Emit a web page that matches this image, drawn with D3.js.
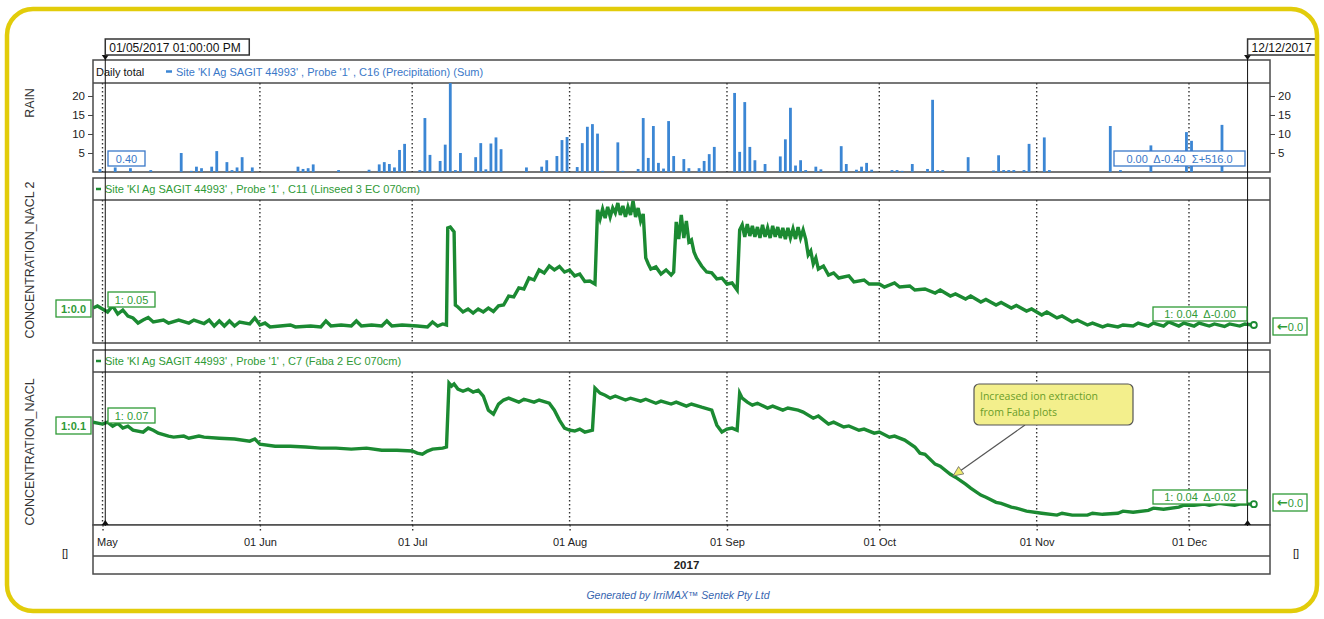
<!DOCTYPE html>
<html><head><meta charset="utf-8">
<script src="https://cdn.jsdelivr.net/npm/d3@7"></script>
<style>
body{margin:0;background:#fff;}
svg{display:block;font-family:"Liberation Sans",Arial,sans-serif;}
</style>
</head><body>
<svg id="c" width="1324" height="619"></svg>
<script>
// ---------------- DATA ----------------
const rainDates = ["04-30","05-03","05-06","05-10","05-16","05-18","05-19","05-20","05-22","05-23","05-25","05-26","05-27","05-28","05-30",
 "06-08","06-09","06-10","06-11","06-16","06-22","06-24","06-25","06-26","06-27","06-28","06-29",
 "07-02","07-03","07-04","07-06","07-07","07-08","07-09","07-10","07-13","07-14","07-15","07-16","07-17","07-18","07-23","07-26","07-27","07-29","07-30","07-31",
 "08-02","08-03","08-04","08-05","08-06","08-07","08-10","08-11","08-14","08-15","08-16","08-17","08-18","08-19","08-20","08-21","08-23","08-24","08-26","08-27","08-28","08-29",
 "09-02","09-03","09-04","09-05","09-06","09-08","09-11","09-12","09-13","09-14","09-15","09-16","09-18","09-19","09-23","09-24","09-26","09-27","09-28","09-29",
 "10-03","10-04","10-05","10-07","10-10","10-11","10-12","10-13","10-18","10-23","10-24","10-25","10-26","10-27","10-29","10-30",
 "11-02","11-03","11-15","11-17","11-23","11-30","12-01","12-07"];
const rainValues = [0.8,1.2,1.0,0.5,5.0,0.3,1.4,1.0,1.4,5.5,2.6,0.5,1.2,3.9,1.2,
 1.4,0.8,1.0,2.0,0.5,0.6,2.0,2.6,2.1,1.2,5.8,7.4,
 0.5,14.2,4.5,2.9,7.2,24,0.5,5.0,3.9,7.6,0.7,7.5,9.1,6.0,1.2,1.4,3.1,4.2,8.4,9.2,
 1.3,7.6,11.9,12.6,10.1,0.3,7.8,0.3,0.8,14.2,3.7,12.1,2.4,0.9,13.4,4.2,3.4,1.0,1.0,2.9,4.7,6.6,
 20.8,5.3,18.4,6.6,3.1,2.1,4.1,8.6,16.9,1.7,3.1,0.5,1.4,0.7,6.8,2.1,0.6,1.4,2.4,0.6,
 0.5,0.5,0.3,2.1,0.8,19.0,0.5,0.5,3.9,0.4,4.4,0.5,0.5,0.5,0.5,7.4,
 9.1,0.5,12.1,0.5,7.0,10.5,8.2,12.4];

// C11 Linseed 3 EC 070cm  [time "MM-DD HH", value]
const linseedSeries = [
 ["04-29 03",0.0513],["04-30 00",0.0527],["05-01 00",0.0507],["05-02 00",0.0487],["05-03 00",0.0527],["05-04 00",0.0473],
 ["05-05 00",0.050],["05-06 00",0.046],["05-07 00",0.0447],["05-08 00",0.0413],["05-09 00",0.0433],["05-10 00",0.045],
 ["05-11 00",0.042],["05-13 00",0.0433],["05-14 00",0.0413],["05-16 00",0.0433],["05-18 00",0.0413],["05-19 00",0.0433],
 ["05-21 00",0.041],["05-22 00",0.0433],["05-23 00",0.0393],["05-24 00",0.0427],["05-25 00",0.0393],["05-26 00",0.0427],
 ["05-27 00",0.0393],["05-28 00",0.042],["05-30 00",0.0407],["05-31 00",0.0447],["06-01 00",0.040],["06-02 00",0.0413],
 ["06-03 00",0.0387],["06-05 00",0.0393],["06-07 00",0.040],["06-08 00",0.0387],["06-11 00",0.0393],["06-13 00",0.0387],
 ["06-14 00",0.0427],["06-15 00",0.0393],["06-17 00",0.040],["06-19 00",0.0393],["06-20 00",0.0427],["06-21 00",0.0393],
 ["06-23 00",0.040],["06-25 00",0.0393],["06-26 00",0.0427],["06-27 00",0.0393],["06-29 00",0.040],["07-02 00",0.0393],
 ["07-04 00",0.0387],["07-05 00",0.042],["07-06 00",0.0393],["07-07 00",0.0407],["07-07 18",0.040],["07-08 00",0.1047],
 ["07-08 12",0.1053],["07-09 06",0.102],["07-09 12",0.0533],["07-10 00",0.052],["07-11 00",0.0487],["07-12 00",0.0507],
 ["07-13 00",0.048],["07-14 00",0.0507],["07-15 00",0.0487],["07-16 00",0.0513],["07-17 00",0.049],["07-18 00",0.0527],
 ["07-19 00",0.0533],["07-20 00",0.0593],["07-21 00",0.0587],["07-22 00",0.0647],["07-23 00",0.064],["07-24 00",0.0713],
 ["07-25 00",0.070],["07-26 00",0.0767],["07-27 00",0.0747],["07-28 00",0.0793],["07-29 00",0.0767],["07-30 00",0.079],
 ["07-31 00",0.0753],["08-01 00",0.0767],["08-02 00",0.0727],["08-03 00",0.074],["08-04 00",0.069],["08-05 00",0.0693],
 ["08-06 00",0.0673],["08-06 12",0.1167],["08-07 00",0.1107],["08-07 12",0.1173],["08-08 00",0.1113],["08-08 12",0.1187],
 ["08-09 00",0.112],["08-09 12",0.118],["08-10 00",0.1147],["08-10 12",0.1213],["08-11 00",0.1133],["08-11 12",0.1193],
 ["08-12 00",0.112],["08-12 12",0.1187],["08-13 00",0.1133],["08-13 12",0.1227],["08-14 00",0.112],["08-14 12",0.118],
 ["08-15 00",0.1093],["08-15 12",0.114],["08-16 00",0.0847],["08-16 12",0.0807],["08-17 00",0.0773],["08-18 00",0.0787],
 ["08-19 00",0.074],["08-20 00",0.0767],["08-21 00",0.0733],["08-21 12",0.0753],["08-22 00",0.1087],["08-22 12",0.0973],
 ["08-23 00",0.1133],["08-23 12",0.098],["08-24 00",0.1093],["08-24 12",0.0953],["08-25 00",0.0967],["08-25 12",0.0887],
 ["08-26 00",0.0847],["08-27 00",0.0793],["08-28 00",0.0753],["08-29 00",0.0747],["08-30 00",0.0707],["08-31 00",0.0713],
 ["09-01 00",0.0673],["09-02 00",0.068],["09-03 00",0.0633],["09-03 12",0.1033],["09-04 00",0.1067],["09-04 12",0.0987],
 ["09-05 00",0.1073],["09-05 12",0.0993],["09-06 00",0.106],["09-06 12",0.0987],["09-07 00",0.1053],["09-07 12",0.098],
 ["09-08 00",0.1067],["09-08 12",0.0987],["09-09 00",0.1047],["09-09 12",0.098],["09-10 00",0.106],["09-10 12",0.0987],
 ["09-11 00",0.1053],["09-11 12",0.098],["09-12 00",0.1047],["09-12 12",0.0973],["09-13 00",0.1047],["09-13 12",0.098],
 ["09-14 00",0.104],["09-14 12",0.0973],["09-15 00",0.1053],["09-15 12",0.098],["09-16 00",0.1033],["09-16 12",0.0973],
 ["09-17 00",0.0867],["09-17 12",0.0893],["09-18 00",0.0807],["09-18 12",0.0847],["09-19 00",0.0773],["09-20 00",0.0793],
 ["09-21 00",0.0733],["09-22 00",0.0747],["09-23 00",0.0713],["09-25 00",0.0727],["09-26 00",0.0687],["09-28 00",0.070],
 ["09-29 00",0.0673],["10-01 00",0.0673],["10-02 00",0.0653],["10-04 00",0.068],["10-05 00",0.0653],["10-07 00",0.066],
 ["10-08 00",0.0633],["10-10 00",0.064],["10-12 00",0.0613],["10-13 00",0.0633],["10-15 00",0.0593],["10-16 00",0.0607],
 ["10-18 00",0.0573],["10-19 00",0.0593],["10-21 00",0.0553],["10-22 00",0.057],["10-24 00",0.0533],["10-25 00",0.055],
 ["10-27 00",0.0513],["10-28 00",0.053],["10-30 00",0.0493],["10-31 00",0.0507],["11-02 00",0.0467],["11-03 00",0.0487],
 ["11-05 00",0.0447],["11-06 00",0.046],["11-08 00",0.042],["11-09 00",0.0433],["11-11 00",0.040],["11-12 00",0.0413],
 ["11-14 00",0.0387],["11-15 00",0.040],["11-17 00",0.0387],["11-18 00",0.040],["11-20 00",0.0393],["11-21 00",0.0413],
 ["11-23 00",0.0393],["11-24 00",0.0413],["11-26 00",0.0393],["11-27 00",0.042],["11-29 00",0.0393],["11-30 00",0.0413],
 ["12-02 00",0.0393],["12-03 00",0.0413],["12-05 00",0.0393],["12-06 00",0.0407],["12-08 00",0.039],["12-09 00",0.0407],
 ["12-11 00",0.0393],["12-12 00",0.0407],["12-13 14",0.0400]
];

// C7 Faba 2 EC 070cm
const fabaSeries = [
 ["04-29 03",0.0711],["05-01 00",0.0704],["05-02 00",0.0711],["05-03 00",0.0696],["05-04 00",0.0707],["05-05 00",0.0689],
 ["05-06 00",0.0696],["05-07 00",0.0681],["05-09 00",0.0674],["05-10 00",0.0689],["05-11 00",0.0681],["05-12 00",0.067],
 ["05-14 00",0.0659],["05-15 00",0.0655],["05-17 00",0.0659],["05-18 00",0.0651],["05-20 00",0.0659],["05-21 00",0.0655],
 ["05-24 00",0.0651],["05-27 00",0.0648],["05-30 00",0.064],["05-31 00",0.0648],["06-01 00",0.0629],["06-04 00",0.0621],
 ["06-07 00",0.0621],["06-10 00",0.0618],["06-13 00",0.0614],["06-16 00",0.0614],["06-19 00",0.061],["06-22 00",0.0614],
 ["06-25 00",0.0606],["06-28 00",0.0606],["07-01 00",0.0603],["07-02 00",0.0595],["07-03 00",0.0591],["07-04 00",0.0603],
 ["07-05 00",0.061],["07-07 00",0.0614],["07-07 18",0.0618],["07-08 06",0.0857],["07-08 18",0.0846],["07-09 06",0.0854],
 ["07-10 00",0.0835],["07-11 00",0.0827],["07-12 00",0.0835],["07-13 00",0.0824],["07-14 00",0.0831],["07-15 00",0.0809],
 ["07-16 00",0.0756],["07-17 00",0.0741],["07-18 00",0.0779],["07-19 00",0.0794],["07-20 00",0.0801],["07-22 00",0.0786],
 ["07-23 00",0.0797],["07-25 00",0.0786],["07-26 00",0.0794],["07-28 00",0.0782],["07-29 00",0.0756],["07-30 00",0.0719],
 ["07-31 00",0.0689],["08-01 00",0.0681],["08-02 00",0.0678],["08-03 00",0.0685],["08-04 00",0.0674],["08-05 12",0.0681],
 ["08-06 00",0.0839],["08-07 00",0.082],["08-08 00",0.0812],["08-09 00",0.0801],["08-10 00",0.0809],["08-12 00",0.0794],
 ["08-13 00",0.0801],["08-15 00",0.079],["08-16 00",0.0797],["08-18 00",0.0782],["08-19 00",0.079],["08-21 00",0.0779],
 ["08-22 00",0.0786],["08-24 00",0.0771],["08-25 00",0.0779],["08-27 00",0.0767],["08-29 00",0.0756],["08-30 00",0.070],
 ["08-31 00",0.0674],["09-01 00",0.0685],["09-02 00",0.0689],["09-03 00",0.0681],["09-03 12",0.082],["09-04 00",0.0801],
 ["09-05 00",0.0786],["09-06 00",0.0775],["09-07 00",0.0782],["09-09 00",0.0764],["09-10 00",0.0771],["09-12 00",0.0756],
 ["09-13 00",0.0764],["09-15 00",0.0756],["09-16 00",0.0749],["09-18 00",0.0726],["09-19 00",0.0734],["09-21 00",0.0704],
 ["09-22 00",0.0711],["09-24 00",0.0693],["09-25 00",0.0697],["09-27 00",0.0681],["09-28 00",0.0685],["09-30 00",0.067],
 ["10-01 00",0.0674],["10-03 00",0.0655],["10-04 00",0.0659],["10-06 00",0.0644],["10-08 00",0.0618],["10-09 00",0.0595],
 ["10-10 00",0.0591],["10-12 00",0.0554],["10-13 00",0.0546],["10-15 00",0.0516],["10-16 00",0.0505],["10-18 00",0.0479],
 ["10-19 00",0.0464],["10-21 00",0.0438],["10-22 00",0.0430],["10-24 00",0.0411],["10-25 00",0.0407],["10-27 00",0.0393],
 ["10-28 00",0.0389],["10-30 00",0.0378],["11-02 00",0.037],["11-05 00",0.0363],["11-06 00",0.0370],["11-08 00",0.0363],
 ["11-11 00",0.0363],["11-12 00",0.0370],["11-14 00",0.0366],["11-17 00",0.037],["11-18 00",0.0378],["11-20 00",0.0374],
 ["11-23 00",0.0381],["11-24 00",0.0389],["11-26 00",0.0385],["11-29 00",0.0393],["11-30 00",0.0400],["12-02 00",0.040],
 ["12-04 00",0.0404],["12-05 00",0.040],["12-07 00",0.0407],["12-08 00",0.0404],["12-10 00",0.0400],["12-11 00",0.0404],
 ["12-13 14",0.0404]
];

const monthTicks = ["05-01 00","06-01 00","07-01 00","08-01 00","09-01 00","10-01 00","11-01 00","12-01 00"];
const monthTickLabels = ["May","01 Jun","01 Jul","01 Aug","01 Sep","01 Oct","01 Nov","01 Dec"];
const rainTicks = [5,10,15,20];

// ---------------- SETUP ----------------
const parseT = s => d3.timeParse("%Y-%m-%d %H")("2017-" + s);
const svg = d3.select("#c");
const defs = svg.append("defs");
const PL = 93, PR = 1270;
const P = {
  rain: {top:60, hb:83, bottom:172},
  mid:  {top:178, hb:200, bottom:343},
  bot:  {top:350, hb:372, bottom:525},
  axis: {top:525, mid:556, bottom:574}
};
const x = d3.scaleTime().domain([parseT("04-29 03"), parseT("12-16 23")]).range([PL, PR]);
const yRain = d3.scaleLinear().domain([0, 23.42]).range([P.rain.bottom, P.rain.hb]);
const yMid = d3.scaleLinear().domain([0.028, 0.1233]).range([P.mid.bottom, P.mid.hb]);
const yBot = d3.scaleLinear().domain([0.0326, 0.0899]).range([P.bot.bottom, P.bot.hb]);

const GREEN = "#1b8a32", GTEXT = "#2f9a36", BLUE = "#3b86d4", BTEXT = "#3a78c8", FRAME = "#4a4a4a";

defs.append("clipPath").attr("id","frameClip").append("rect")
  .attr("x",8).attr("y",10).attr("width",1307).attr("height",600).attr("rx",24);
[["rainClip",P.rain],["midClip",P.mid],["botClip",P.bot]].forEach(([id,p])=>{
  defs.append("clipPath").attr("id",id).append("rect")
    .attr("x",PL).attr("y",p.hb).attr("width",PR-PL).attr("height",p.bottom-p.hb);
});

const root = svg.append("g").attr("clip-path","url(#frameClip)");
root.append("rect").attr("width",1324).attr("height",619).attr("fill","#fff");

// panel frames
function panel(p){
  root.append("rect").attr("x",PL).attr("y",p.top).attr("width",PR-PL).attr("height",p.bottom-p.top)
    .attr("fill","#fff").attr("stroke",FRAME).attr("stroke-width",1.5);
  root.append("line").attr("x1",PL).attr("x2",PR).attr("y1",p.hb).attr("y2",p.hb)
    .attr("stroke",FRAME).attr("stroke-width",1.5);
}
panel(P.rain); panel(P.mid); panel(P.bot);
root.append("rect").attr("x",PL).attr("y",P.axis.top).attr("width",PR-PL).attr("height",P.axis.bottom-P.axis.top)
  .attr("fill","#fff").attr("stroke",FRAME).attr("stroke-width",1.5);
root.append("line").attr("x1",PL).attr("x2",PR).attr("y1",P.axis.mid).attr("y2",P.axis.mid)
  .attr("stroke",FRAME).attr("stroke-width",1.5);

// gridlines
const tickDates = monthTicks.map(parseT);
[P.rain,P.mid,P.bot].forEach(p=>{
  root.append("g").selectAll("line").data(tickDates).join("line")
    .attr("x1",d=>x(d)).attr("x2",d=>x(d)).attr("y1",p.hb).attr("y2",p.bottom)
    .attr("stroke","#333").attr("stroke-width",1.4).attr("stroke-dasharray","1.5,2.5");
});

// x axis
const xAxis = d3.axisBottom(x).tickValues(tickDates).tickFormat((d,i)=>monthTickLabels[i]).tickSize(8);
const xg = root.append("g").attr("transform",`translate(0,${P.axis.top})`).call(xAxis);
xg.select(".domain").remove();
xg.selectAll(".tick line").attr("stroke","#333").attr("stroke-width",1.4).attr("stroke-dasharray","1.5,2.5");
xg.selectAll(".tick text").attr("font-size",11).attr("fill","#222").attr("dy","0.9em").attr("y",11);
xg.selectAll(".tick text").filter((d,i)=>i===0).attr("text-anchor","start").attr("dx",-6);
root.append("text").attr("x",(PL+PR)/2+5).attr("y",569).attr("text-anchor","middle")
  .attr("font-size",11.5).attr("font-weight",600).attr("fill","#222").text("2017");

// rain axes
const yl = root.append("g").attr("transform",`translate(${PL},0)`).call(d3.axisLeft(yRain).tickValues(rainTicks).tickSize(5).tickPadding(3));
const yr = root.append("g").attr("transform",`translate(${PR},0)`).call(d3.axisRight(yRain).tickValues(rainTicks).tickSize(5).tickPadding(3));
[yl,yr].forEach(g=>{
  g.select(".domain").remove();
  g.selectAll(".tick line").attr("stroke","#444");
  g.selectAll(".tick text").attr("font-size",11.5).attr("fill","#222");
});

// rain bars
const rainData = rainDates.map((d,i)=>({t:d3.timeHour.offset(parseT(d+" 00"),12), v:rainValues[i]}));
root.append("g").attr("clip-path","url(#rainClip)").selectAll("rect").data(rainData).join("rect")
  .attr("x",d=>x(d.t)-1.4).attr("width",2.8)
  .attr("y",d=>yRain(d.v)).attr("height",d=>yRain(0)-yRain(d.v))
  .attr("fill",BLUE);

// lines
function drawLine(series, y, clip){
  const data = series.map(([t,v])=>({t:parseT(t),v}));
  const g = root.append("g").attr("clip-path",`url(#${clip})`);
  g.append("path").datum(data)
    .attr("d",d3.line().x(d=>x(d.t)).y(d=>y(d.v)))
    .attr("fill","none").attr("stroke",GREEN).attr("stroke-width",3.4).attr("stroke-linejoin","miter");
  const last = data[data.length-1];
  root.append("circle").attr("cx",x(last.t)+1).attr("cy",y(last.v)).attr("r",3)
    .attr("fill","#fff").attr("stroke",GREEN).attr("stroke-width",1.8);
}
drawLine(linseedSeries, yMid, "midClip");
drawLine(fabaSeries, yBot, "botClip");

// headers
const hdr = root.append("g").attr("font-size",11);
hdr.append("text").attr("x",96).attr("y",75.5).attr("fill","#111").text("Daily total");
hdr.append("line").attr("x1",166).attr("x2",172).attr("y1",71.5).attr("y2",71.5).attr("stroke",BLUE).attr("stroke-width",2.5);
hdr.append("text").attr("x",176).attr("y",75.5).attr("fill",BTEXT)
  .text("Site 'KI Ag SAGIT 44993' , Probe '1' , C16 (Precipitation) (Sum)");
hdr.append("line").attr("x1",96).attr("x2",101).attr("y1",189).attr("y2",189).attr("stroke",GREEN).attr("stroke-width",2.5);
hdr.append("text").attr("x",105).attr("y",193).attr("fill",GTEXT)
  .text("Site 'KI Ag SAGIT 44993' , Probe '1' , C11 (Linseed 3 EC 070cm)");
hdr.append("line").attr("x1",96).attr("x2",101).attr("y1",361).attr("y2",361).attr("stroke",GREEN).attr("stroke-width",2.5);
hdr.append("text").attr("x",105).attr("y",365).attr("fill",GTEXT)
  .text("Site 'KI Ag SAGIT 44993' , Probe '1' , C7 (Faba 2 EC 070cm)");

// axis titles
function vtitle(txt, cx, cy){
  root.append("text").attr("transform",`translate(${cx},${cy}) rotate(-90)`).attr("text-anchor","middle")
    .attr("font-size",12.4).attr("fill","#333").text(txt);
}
vtitle("RAIN",34,103); vtitle("CONCENTRATION_NACL 2",34,260); vtitle("CONCENTRATION_NACL",34,452);
root.append("text").attr("x",62).attr("y",557).attr("font-size",11).attr("fill","#222").text("[]");
root.append("text").attr("x",1293).attr("y",557).attr("font-size",11).attr("fill","#222").text("[]");

// cursors
const curL = parseT("05-01 13"), curR = parseT("12-12 13");
[curL,curR].forEach(c=>{
  const cx = x(c);
  root.append("line").attr("x1",cx).attr("x2",cx).attr("y1",56).attr("y2",P.axis.top+1)
    .attr("stroke","#111").attr("stroke-width",1);
  root.append("path").attr("d",`M${cx-3.5},55 L${cx+3.5},55 L${cx},60 Z`).attr("fill","#111");
  root.append("path").attr("d",`M${cx-3.5},${P.axis.top} L${cx+3.5},${P.axis.top} L${cx},${P.axis.top-5} Z`).attr("fill","#111");
});
function dateBox(x0, txt){
  root.append("rect").attr("x",x0).attr("y",39).attr("width",144).attr("height",16)
    .attr("fill","#fff").attr("stroke","#333").attr("stroke-width",1.5);
  root.append("text").attr("x",x0+4).attr("y",51.5).attr("font-size",12).attr("fill","#111").text(txt);
}
dateBox(x(curL), "01/05/2017 01:00:00 PM");
dateBox(x(curR), "12/12/2017 01:00:00 PM");

// value boxes
function vbox(x0,y0,w,h,txt,col,bold){
  root.append("rect").attr("x",x0).attr("y",y0).attr("width",w).attr("height",h)
    .attr("fill","#fff").attr("stroke",col).attr("stroke-width",1.3);
  root.append("text").attr("x",x0+w/2).attr("y",y0+h/2+4).attr("text-anchor","middle")
    .attr("font-size",11).attr("font-weight",bold?"bold":"normal").attr("fill",col)
    .style("white-space","pre").text(txt);
}
function arrowBox(x0,y0,w,h,txt,col){
  root.append("rect").attr("x",x0).attr("y",y0).attr("width",w).attr("height",h)
    .attr("fill","#fff").attr("stroke",col).attr("stroke-width",1.3);
  const t = root.append("text").attr("x",x0+w/2).attr("y",y0+h/2+4).attr("text-anchor","middle")
    .attr("font-size",11).attr("fill",col);
  t.append("tspan").attr("font-family","'DejaVu Sans',sans-serif").attr("font-weight","bold").attr("font-size",13).text("←");
  t.append("tspan").text("0.0".length ? txt : txt);
}
vbox(108,151,37,15,"0.40",BTEXT);
vbox(1114,151,131,15,"0.00  Δ-0.40  Σ+516.0",BTEXT);
vbox(56,300,35,17,"1:0.0",GTEXT,true);
vbox(108,292,47,15,"1: 0.05",GTEXT);
vbox(1153,307,94,14,"1: 0.04  Δ-0.00",GTEXT);
arrowBox(1273,318,34,17,"0.0",GTEXT);
vbox(56,417,35,17,"1:0.1",GTEXT,true);
vbox(108,408,47,15,"1: 0.07",GTEXT);
vbox(1153,490,94,14,"1: 0.04  Δ-0.02",GTEXT);
arrowBox(1273,494,34,17,"0.0",GTEXT);

// annotation
const tip = [953,476], start = [1025,425];
root.append("line").attr("x1",start[0]).attr("y1",start[1]).attr("x2",tip[0]).attr("y2",tip[1])
  .attr("stroke","#555").attr("stroke-width",1.2);
{
  const dx = tip[0]-start[0], dy = tip[1]-start[1], L = Math.hypot(dx,dy);
  const ux = dx/L, uy = dy/L, bx = tip[0]-ux*10, by = tip[1]-uy*10;
  const px = -uy*4.5, py = ux*4.5;
  root.append("path").attr("d",`M${tip[0]},${tip[1]} L${bx+px},${by+py} L${bx-px},${by-py} Z`)
    .attr("fill","#f1ec6e").attr("stroke","#666").attr("stroke-width",0.8);
}
root.append("rect").attr("x",974).attr("y",384).attr("width",159).attr("height",41).attr("rx",5)
  .attr("fill","#f3ef8c").attr("stroke","#555").attr("stroke-width",1.2);
const ann = root.append("text").attr("font-family","'Open Sans',sans-serif").attr("font-size",10.5).attr("fill","#6a9d2a");
ann.append("tspan").attr("x",980).attr("y",400).text("Increased ion extraction");
ann.append("tspan").attr("x",980).attr("y",416).text("from Faba plots");

// footer
root.append("text").attr("x",678).attr("y",599).attr("text-anchor","middle").attr("font-size",10.5)
  .attr("font-style","italic").attr("fill","#3765b0").text("Generated by IrriMAX™ Sentek Pty Ltd");

// yellow rounded border
svg.append("rect").attr("x",7).attr("y",9).attr("width",1310).attr("height",602).attr("rx",26)
  .attr("fill","none").attr("stroke","#e2cc0a").attr("stroke-width",4.5);
</script>
</body></html>
